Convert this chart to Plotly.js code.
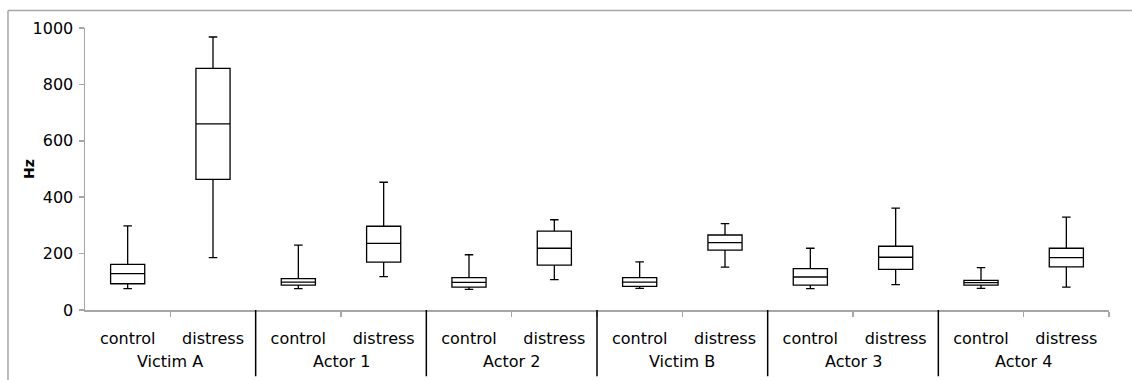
<!DOCTYPE html>
<html>
<head>
<meta charset="utf-8">
<script src="https://cdn.plot.ly/plotly-3.0.1.min.js"></script>
<style>html,body{margin:0;padding:0;background:#fff;}#chart{width:1132px;height:380px;}</style>
</head>
<body>
<div id="chart"></div>
<script>
const groups = ["Victim A","Victim A","Actor 1","Actor 1","Actor 2","Actor 2","Victim B","Victim B","Actor 3","Actor 3","Actor 4","Actor 4"];
const conditions = ["control","distress","control","distress","control","distress","control","distress","control","distress","control","distress"];
const lowerWhisker = [76, 186, 76, 118, 73, 108, 77, 152, 76, 90, 77, 81];
const q1Values     = [93, 463, 88, 170, 81, 159, 84, 212, 88, 144, 88, 153];
const medianValues = [129, 660, 99, 236, 98, 219, 99, 239, 117, 187, 97, 186];
const q3Values     = [162, 857, 111, 297, 115, 280, 115, 266, 147, 226, 105, 219];
const upperWhisker = [298, 968, 230, 453, 196, 320, 171, 306, 219, 361, 150, 329];
const yTickVals = [0, 200, 400, 600, 800, 1000];
const yTitle = "Hz";

// category index positions on a linear axis
const xPos = conditions.map((_, i) => i);
const groupNames = groups.filter((g, i) => i === 0 || groups[i - 1] !== g);
const groupCenters = groupNames.map(g => {
  const idx = xPos.filter(i => groups[i] === g);
  return (idx[0] + idx[idx.length - 1]) / 2;
});
const boundaries = xPos.map(i => i + 0.5);
const dividers = xPos.filter(i => i < xPos.length - 1 && groups[i] !== groups[i + 1]).map(i => i + 0.5);

const trace = {
  type: "box",
  x: xPos,
  q1: q1Values,
  median: medianValues,
  q3: q3Values,
  lowerfence: lowerWhisker,
  upperfence: upperWhisker,
  width: 0.4,
  whiskerwidth: 0.25,
  fillcolor: "#ffffff",
  line: {color: "#000000", width: 1.3},
  boxpoints: false,
  hoverinfo: "skip",
  showlegend: false
};

const shapes = [
  {type: "line", xref: "paper", yref: "paper", x0: -0.0752, x1: 1.03, y0: 1.062, y1: 1.062, line: {color: "#a6a6a6", width: 1.5}},
  {type: "line", xref: "paper", yref: "paper", x0: -0.0752, x1: -0.0752, y0: 1.062, y1: -0.26, line: {color: "#a6a6a6", width: 1.5}}
].concat(dividers.map(d => ({
  type: "line", xref: "x", yref: "paper", x0: d, x1: d, y0: 0, y1: -0.235,
  line: {color: "#000000", width: 1.5}
})));

const annotations = groupNames.map((g, k) => ({
  text: g, x: groupCenters[k], xref: "x", y: -0.181, yref: "paper",
  xanchor: "center", yanchor: "middle", showarrow: false,
  font: {family: "DejaVu Sans", size: 16, color: "#000"}
})).concat([{
  text: "<b>" + yTitle + "</b>", x: -0.0547, xref: "paper", y: 0.5, yref: "paper",
  xanchor: "center", yanchor: "middle", textangle: -90, showarrow: false,
  font: {family: "DejaVu Sans", size: 14, color: "#000"}
}]);

const layout = {
  width: 1132,
  height: 380,
  margin: {l: 85, r: 23, t: 28, b: 70},
  paper_bgcolor: "#ffffff",
  plot_bgcolor: "#ffffff",
  font: {family: "DejaVu Sans", size: 14, color: "#000"},
  xaxis: {
    range: [-0.5, xPos.length - 0.5],
    tickvals: xPos,
    ticktext: conditions,
    ticks: "",
    ticklabelstandoff: 13,
    showline: true,
    linecolor: "#a6a6a6",
    linewidth: 1.5,
    showgrid: false,
    zeroline: false,
    tickfont: {family: "DejaVu Sans", size: 16, color: "#000"},
    minor: {tickvals: boundaries, ticks: "outside", ticklen: 5, tickcolor: "#a6a6a6", tickwidth: 1.5, showgrid: false}
  },
  yaxis: {
    range: [0, 1000],
    tickvals: yTickVals,
    ticktext: yTickVals.map(String),
    showline: true,
    linecolor: "#a6a6a6",
    linewidth: 1.5,
    ticks: "outside",
    ticklen: 5,
    tickwidth: 1.5,
    tickcolor: "#a6a6a6",
    showgrid: false,
    zeroline: false,
    ticklabelstandoff: 2,
    tickfont: {family: "DejaVu Sans", size: 16, color: "#000"}
  },
  shapes: shapes,
  annotations: annotations
};

Plotly.newPlot("chart", [trace], layout, {staticPlot: true, displayModeBar: false});
</script>
</body>
</html>
